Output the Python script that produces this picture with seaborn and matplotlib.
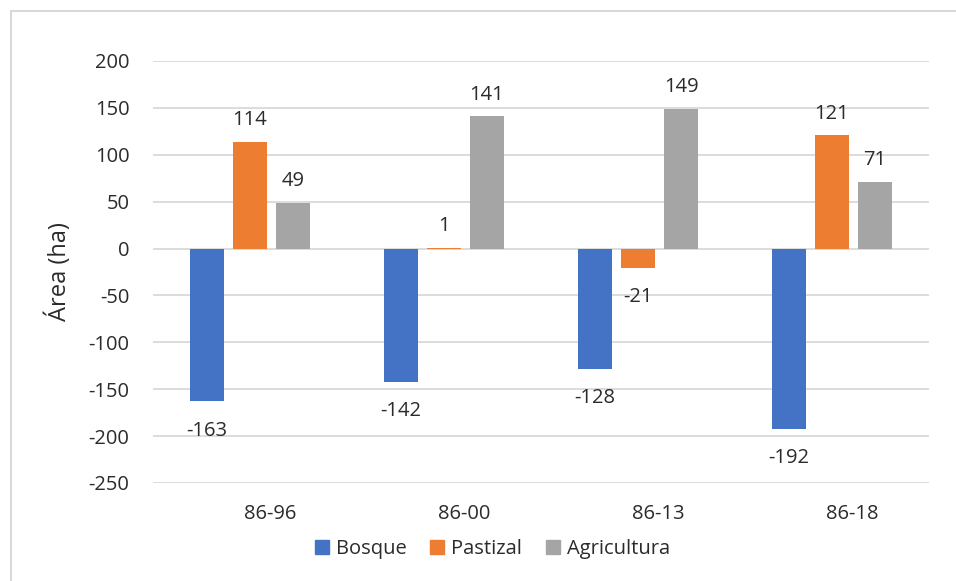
import matplotlib
matplotlib.use("Agg")
import matplotlib.pyplot as plt
import matplotlib.transforms as mtransforms
from matplotlib.lines import Line2D
import seaborn as sns
import pandas as pd

periodos = ["86-96", "86-00", "86-13", "86-18"]
bosque = [-163, -142, -128, -192]
pastizal = [114, 1, -21, 121]
agricultura = [49, 141, 149, 71]
coberturas = ["Bosque", "Pastizal", "Agricultura"]
colores = ["#4472C4", "#ED7D31", "#A5A5A5"]
yticks = [200, 150, 100, 50, 0, -50, -100, -150, -200, -250]

df = pd.DataFrame({
    "periodo": periodos * 3,
    "cobertura": [c for c in coberturas for _ in periodos],
    "area": bosque + pastizal + agricultura,
})

sns.set_theme(style="white")
plt.rcParams["font.family"] = ["Open Sans", "DejaVu Sans"]
texto = "#2b2b2b"

fig = plt.figure(figsize=(9.56, 5.81), dpi=100)
ax = fig.add_axes([153 / 956, 1 - 483 / 581, 776 / 956, 422 / 581])

sns.barplot(data=df, x="periodo", y="area", hue="cobertura",
            order=periodos, hue_order=coberturas, palette=colores,
            width=0.665, gap=0.21, saturation=1, errorbar=None,
            linewidth=0, ax=ax, legend=False)

ax.set_ylim(-250, 200)
ax.set_yticks(yticks)
ax.set_yticklabels([str(v) for v in yticks])
ax.yaxis.grid(True, color="#D9D9D9", linewidth=1.3)
ax.set_axisbelow(True)
for s in ax.spines.values():
    s.set_visible(False)
ax.tick_params(axis="both", length=0, labelsize=14.5, colors=texto)
ax.tick_params(axis="y", pad=17)
ax.tick_params(axis="x", pad=15)
ax.set_xlabel("")
ax.set_ylabel("Área (ha)", fontsize=17, color=texto, labelpad=12)

# category labels sit a little right of the group centre
shift = mtransforms.ScaledTranslation(20 / 100, 0, fig.dpi_scale_trans)
for lbl in ax.get_xticklabels():
    lbl.set_transform(lbl.get_transform() + shift)

# value labels outside the end of each bar
for cont in ax.containers:
    for bar, val in zip(cont.patches, cont.datavalues):
        x = bar.get_x() + bar.get_width() / 2
        off = 15.5 if val >= 0 else -21
        ax.annotate(f"{val:.0f}", (x, val), xytext=(0, off),
                    textcoords="offset points", ha="center", va="center",
                    fontsize=14.5, color=texto)

handles = [Line2D([], [], marker="s", linestyle="", markersize=10,
                  markerfacecolor=c, markeredgecolor=c) for c in colores]
fig.legend(handles, coberturas, loc="center", bbox_to_anchor=(491 / 956, 1 - 549 / 581),
           ncol=3, frameon=False, fontsize=14.5, handletextpad=0.2,
           handlelength=1.0, columnspacing=1.0, labelcolor=texto)

# chart frame (left and top edges visible)
fig.add_artist(Line2D([11 / 956, 11 / 956], [0, 1 - 11 / 581],
                      transform=fig.transFigure, color="#D9D9D9", linewidth=1.5))
fig.add_artist(Line2D([11 / 956, 1], [1 - 11 / 581, 1 - 11 / 581],
                      transform=fig.transFigure, color="#D9D9D9", linewidth=1.5))

fig.savefig("out.png", dpi=100)
